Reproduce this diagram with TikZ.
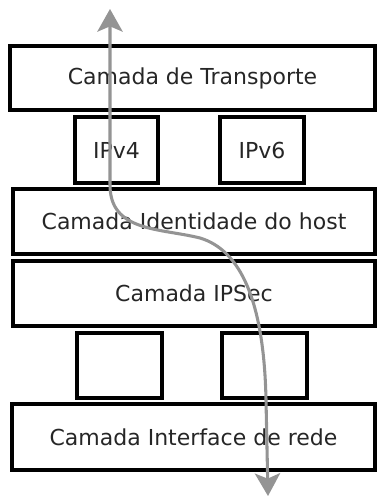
\documentclass[tikz,border=0pt]{standalone}
\usepackage{fontspec}
\setmainfont{DejaVu Sans}
\usetikzlibrary{arrows.meta}
\begin{document}
\begin{tikzpicture}[x=0.75pt,y=-0.75pt,
  layer/.style={draw=black,line width=2.6pt,rectangle,inner sep=0pt,
    font=\fontsize{16.5}{19}\selectfont,text=black!85},
  path/.style={draw=black!42,line width=2.3pt,
    {Stealth[length=17pt,width=19pt,inset=4pt]}-{Stealth[length=17pt,width=19pt,inset=4pt]}}]
  \useasboundingbox (0,0) rectangle (376,498);
  % stacked layers
  \node[layer,minimum width=273.75pt,minimum height=48pt] (trans) at (192.5,78) {Camada de Transporte};
  \node[layer,minimum width=62.25pt,minimum height=49.5pt] (v4) at (116.5,150) {IPv4};
  \node[layer,minimum width=63pt,minimum height=49.5pt] (v6) at (262,150) {IPv6};
  \node[layer,minimum width=271.5pt,minimum height=48.75pt] (ident) at (194,221.5) {Camada Identidade do host};
  \node[layer,minimum width=271.5pt,minimum height=48.75pt] (ipsec) at (194,293.5) {Camada IPSec};
  \node[layer,minimum width=63.75pt,minimum height=48.75pt] (e1) at (119.5,365.5) {};
  \node[layer,minimum width=63.75pt,minimum height=48.75pt] (e2) at (264.5,365.5) {};
  \node[layer,minimum width=272.25pt,minimum height=49.5pt] (iface) at (193.5,437) {Camada Interface de rede};
  % packet route through the stack
  \coordinate (top) at (110,9);
  \coordinate (bend) at (200,238);
  \coordinate (bottom) at (268,496);
  \draw[path] (top) -- (110,185) .. controls (110,232) and (160,228) .. (bend)
    .. controls (240,250) and (264,300) .. (266,400) -- (bottom);
\end{tikzpicture}
\end{document}
